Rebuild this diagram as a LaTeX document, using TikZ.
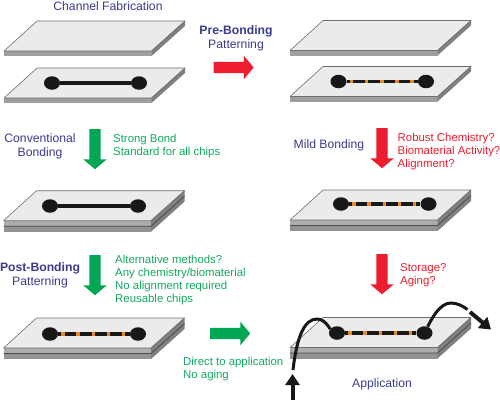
\documentclass[tikz,border=0pt]{standalone}
\usepackage{fontspec}
\setmainfont{Liberation Sans}
\usetikzlibrary{shapes.geometric, shapes.arrows, arrows.meta, positioning}
\definecolor{title}{HTML}{3A3A8E}
\definecolor{good}{HTML}{12A85F}
\definecolor{bad}{HTML}{ED1C2E}
\definecolor{goodarrow}{HTML}{00A651}
\definecolor{ink}{HTML}{1A1718}
\definecolor{dye}{HTML}{E88A24}
\definecolor{face}{HTML}{EBEBEB}
\definecolor{edge}{HTML}{6E6E6E}

\newcommand{\txt}[1]{\fontsize{12.2}{14}\selectfont #1}
\newcommand{\notetxt}[1]{\fontsize{11.4}{13}\selectfont #1}

% one holder plate, origin at the front left corner of the top face
\newcommand{\plate}[2]{
  \fill[face] (#1,#2) -- ++(147.5,0) -- ++(33.5,-30) -- ++(-148,0) -- cycle;
  \draw[edge, line width=0.6pt] (#1,#2) -- ++(33,-30) -- ++(148,0);
  \fill[gray!75] (#1,#2) rectangle ++(147.5,5);
  \fill[gray!100] (#1+147.5,#2) -- ++(33.5,-30) -- ++(0,5) -- ++(-33.5,30) -- cycle;
  \draw[edge, line width=0.8pt] (#1,#2) -- ++(147.5,0) -- ++(33.5,-30);
}
% two plates after bonding
\newcommand{\bonded}[2]{
  \fill[face] (#1,#2) -- ++(147.5,0) -- ++(33.5,-30) -- ++(-148,0) -- cycle;
  \draw[edge, line width=0.6pt] (#1,#2) -- ++(33,-30) -- ++(148,0);
  \fill[gray!65] (#1,#2) rectangle ++(147.5,5.5);
  \fill[gray!85] (#1,#2+5.5) rectangle ++(147.5,5.5);
  \fill[gray!100] (#1+147.5,#2) -- ++(33.5,-30) -- ++(0,11) -- ++(-33.5,30) -- cycle;
  \draw[edge, line width=0.8pt] (#1,#2) -- ++(147.5,0) -- ++(33.5,-30);
  \draw[black!70, line width=0.8pt] (#1,#2+5.5) -- ++(147.5,0) -- ++(33.5,-30);
}

\begin{document}
\begin{tikzpicture}[
  x=1pt, y=-1pt,
  hole/.style={ellipse, fill=ink, minimum width=16pt, minimum height=13.5pt, inner sep=0pt},
  channel/.style={ink, line width=3.2pt},
  dyed/.style={dye, line width=3.2pt, dash pattern=on 3.5pt off 11.57pt, dash phase=11.87pt},
  block/.style={single arrow, anchor=tail, inner xsep=0pt, inner ysep=5.5pt, minimum height=#1,
                single arrow head extend=6pt, single arrow tip angle=100,
                shape border uses incircle=false},
  goodblock/.style={block=#1, fill=goodarrow},
  badblock/.style={block=#1, fill=bad},
  flow/.style={ink, line width=3pt},
  head/.style={-{Triangle[length=11pt, width=14pt]}, ink, line width=4pt},
  stage/.style={text=title, align=center, font=\txt},
  good note/.style={text=good, align=left, anchor=west, inner sep=0pt, font=\notetxt},
  bad note/.style={text=bad, align=left, anchor=west, inner sep=0pt, font=\notetxt}
]
\useasboundingbox (0,0) rectangle (500,400);

% Plates, left column
\plate{4}{51}
\plate{4}{98}
\bonded{3.5}{220.7}
\bonded{3.5}{348}
% Plates, right column
\plate{290}{50.5}
\plate{290}{96.5}
\bonded{290}{220}
\bonded{290}{347.5}

% Channels
\node[hole] (a1) at (52,83) {};
\node[hole] (a2) at (139,83) {};
\draw[channel] (a1) -- (a2);
\node[hole] (b1) at (50,206) {};
\node[hole] (b2) at (138,206) {};
\draw[channel] (b1) -- (b2);
\node[hole] (c1) at (50,334) {};
\node[hole] (c2) at (138,334) {};
\draw[channel] (c1) -- (c2);
\draw[dyed] (c1) -- (c2);
\node[hole] (d1) at (338.5,81.5) {};
\node[hole] (d2) at (426,81.5) {};
\draw[channel] (d1) -- (d2);
\draw[dyed] (d1) -- (d2);
\node[hole] (e1) at (341,204) {};
\node[hole] (e2) at (428.5,204) {};
\draw[channel] (e1) -- (e2);
\draw[dyed] (e1) -- (e2);
\node[hole] (f1) at (337,333) {};
\node[hole] (f2) at (424.5,333) {};
\draw[channel] (f1) -- (f2);
\draw[dyed] (f1) -- (f2);

% Block arrows
\node[badblock=40pt] (pre) at (213.5,67.5) {};
\node[goodblock=40pt, rotate=-90] (conv) at (95,129) {};
\node[badblock=40pt, rotate=-90] (mild) at (382,128) {};
\node[goodblock=40pt, rotate=-90] (post) at (95,255) {};
\node[badblock=40pt, rotate=-90] (store) at (382,254) {};
\node[goodblock=40pt] (direct) at (210,333.5) {};

% Flow through the channel
\coordinate (in) at (292.5,400);
\coordinate (intip) at (292.5,374);
\coordinate (outstart) at (470,312);
\coordinate (outtip) at (491,329.5);
\draw[head] (in) -- (intip);
\draw[flow] (293,370) .. controls (297,335) and (305,319) .. (317,319)
  .. controls (325,319) and (330,329) .. (f1);
\draw[flow] (f2) .. controls (432,318) and (440,303) .. (451,303)
  .. controls (457,303) and (463,306) .. (467.5,309.5);
\draw[head] (outstart) -- (outtip);

% Labels
\node[stage] (fab) at (108,6) {Channel Fabrication};
\node[stage] (prelbl) at (236,38) {\textbf{Pre-Bonding}\\Patterning};
\node[stage] (convlbl) at (40,146.7) {Conventional\\Bonding};
\node[stage] (postlbl) at (40,275.5) {\textbf{Post-Bonding}\\Patterning};
\node[stage] (mildlbl) at (329,145.5) {Mild Bonding};
\node[stage] (applbl) at (382,384) {Application};
\node[good note] (strong) at (113,146.5) {Strong Bond\\Standard for all chips};
\node[good note] (alt) at (115,280.5) {Alternative methods?\\Any chemistry/biomaterial\\No alignment required\\Reusable chips};
\node[good note] (dirlbl) at (183,369.5) {Direct to application\\No aging};
\node[bad note] (robust) at (397.5,151.5) {Robust Chemistry?\\Biomaterial Activity?\\Alignment?};
\node[bad note] (aging) at (400,275.5) {Storage?\\Aging?};
\end{tikzpicture}
\end{document}
